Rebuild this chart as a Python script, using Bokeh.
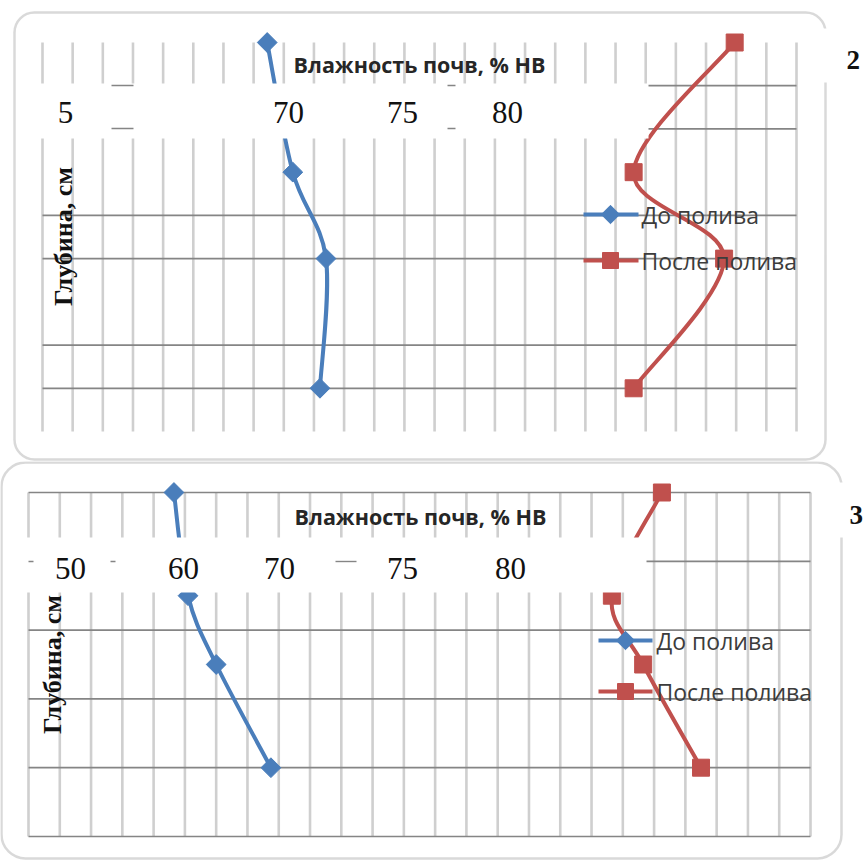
import numpy as np
from bokeh.plotting import figure
from bokeh.models import Range1d, Label, BoxAnnotation
from bokeh.layouts import column
from bokeh.embed import file_html
from bokeh.resources import INLINE

# Soil moisture (% of field capacity, НВ) by depth (cm), before and after irrigation
depth_cm = [0, 30, 50, 80]

before_2 = [64.9, 66.6, 68.8, 68.4]
after_2 = [95.9, 89.2, 95.2, 89.2]

before_3 = [59.3, 60.2, 62.0, 65.5]
after_3 = [90.5, 87.3, 89.3, 93.0]

moisture_min, moisture_max, moisture_step = 50, 100, 2
depth_max_2, depth_max_3 = 90, 100
depth_lines_2 = [10, 20, 40, 50, 70, 80]
depth_lines_3 = [0, 20, 40, 60, 80, 100]

tick_labels_2 = ["5", "70", "75", "80"]
tick_labels_3 = ["50", "60", "70", "75", "80"]

series_names = ["До полива", "После полива"]
title_text = "Влажность почв, % НВ"
depth_label = "Глубина, см"
panel_names = ["2", "3"]

BLUE = "#4a7ebb"
RED = "#c0504d"
GRID_LIGHT = "#cfcfcf"
GRID_DARK = "#858585"
FRAME_GRAY = "#808080"

W = 866


class Frame:
    """Maps page pixels to data values for one panel."""

    def __init__(self, height, page_top, px_left, px_right, px_top, px_bottom, depth_max):
        self.height = height
        self.page_top = page_top
        self.px_left = px_left
        self.px_top = px_top
        self.kx = (moisture_max - moisture_min) / (px_right - px_left)
        self.ky = depth_max / (px_bottom - px_top)
        self.depth_max = depth_max

    def x(self, px):
        return moisture_min + (px - self.px_left) * self.kx

    def y(self, py):
        return (py - self.px_top) * self.ky

    def figure(self):
        return figure(
            width=W, height=self.height,
            x_range=Range1d(self.x(0), self.x(W)),
            y_range=Range1d(self.y(self.page_top + self.height), self.y(self.page_top)),
            x_axis_type=None, y_axis_type=None,
            output_backend="svg", toolbar_location=None,
            min_border=0, min_border_left=0, min_border_right=0,
            min_border_top=0, min_border_bottom=0,
            outline_line_color=None,
            background_fill_color="white", border_fill_color="white",
        )


def smooth_segments(xs, ys):
    """Catmull-Rom style cubic Bezier pieces through the points."""
    pts = np.column_stack([xs, ys]).astype(float)
    n = len(pts)
    out = {k: [] for k in ("x0", "y0", "x1", "y1", "cx0", "cy0", "cx1", "cy1")}
    for i in range(n - 1):
        p_prev = pts[i - 1] if i > 0 else pts[i]
        p0, p1 = pts[i], pts[i + 1]
        p_next = pts[i + 2] if i + 2 < n else pts[i + 1]
        c0 = p0 + (p1 - p_prev) / 6.0
        c1 = p1 - (p_next - p0) / 6.0
        out["x0"].append(p0[0]); out["y0"].append(p0[1])
        out["x1"].append(p1[0]); out["y1"].append(p1[1])
        out["cx0"].append(c0[0]); out["cy0"].append(c0[1])
        out["cx1"].append(c1[0]); out["cy1"].append(c1[1])
    return out


def draw_panel(fr, before, after, depth_lines, tick_labels, lay):
    p = fr.figure()
    ticks = list(range(moisture_min, moisture_max + 1, moisture_step))

    # grid
    p.segment(x0=ticks, y0=[0] * len(ticks), x1=ticks, y1=[fr.depth_max] * len(ticks),
              line_color=GRID_LIGHT, line_width=2.6)
    p.segment(x0=[moisture_min] * len(depth_lines), y0=depth_lines,
              x1=[moisture_max] * len(depth_lines), y1=depth_lines,
              line_color=GRID_DARK, line_width=1.7)

    # series
    for vals, color in ((before, BLUE), (after, RED)):
        seg = smooth_segments(vals, depth_cm)
        p.bezier(line_color=color, line_width=4, **seg)
    p.scatter(before, depth_cm, marker="square", angle=np.pi / 4, size=14,
              fill_color=BLUE, line_color=BLUE)
    p.scatter(after, depth_cm, marker="square", size=17,
              fill_color=RED, line_color=RED)

    # legend
    lx0, lx1, lmx, ltx = lay["legend_x"]
    for name, ly, color, size, ang in (
        (series_names[0], lay["legend_y"][0], BLUE, 13, np.pi / 4),
        (series_names[1], lay["legend_y"][1], RED, 16, 0.0),
    ):
        p.segment(x0=[fr.x(lx0)], y0=[fr.y(ly)], x1=[fr.x(lx1)], y1=[fr.y(ly)],
                  line_color=color, line_width=4)
        p.scatter([fr.x(lmx)], [fr.y(ly)], marker="square", angle=ang, size=size,
                  fill_color=color, line_color=color)
        p.add_layout(Label(x=fr.x(ltx), y=fr.y(ly), text=name,
                           text_font="Open Sans", text_font_size="23px",
                           text_color="#3c3c3c", text_align="left",
                           text_baseline="middle"))

    # pasted tick-label strip
    sl, sr, st, sb = lay["strip"]
    p.quad(left=[fr.x(sl)], right=[fr.x(sr)], top=[fr.y(st)], bottom=[fr.y(sb)],
           fill_color="white", line_color=None)
    for fy, fxa, fxb in lay["fragments"]:
        p.segment(x0=[fr.x(fxa)], y0=[fr.y(fy)], x1=[fr.x(fxb)], y1=[fr.y(fy)],
                  line_color=GRID_DARK, line_width=1.4)
    for txt, tx in zip(tick_labels, lay["tick_x"]):
        p.add_layout(Label(x=fr.x(tx), y=fr.y(lay["tick_y"]), text=txt,
                           text_font="Liberation Serif", text_font_size="31px",
                           text_color="#111111", text_align="center",
                           text_baseline="middle"))

    # title and depth label
    tx, ty = lay["title"]
    p.add_layout(Label(x=fr.x(tx), y=fr.y(ty), text=title_text,
                       text_font="Open Sans", text_font_style="bold",
                       text_font_size="21.5px", text_color="#262626",
                       text_align="center", text_baseline="middle"))
    yx, yy = lay["ylabel"]
    p.add_layout(Label(x=fr.x(yx), y=fr.y(yy), text=depth_label, angle=np.pi / 2,
                       text_font="Liberation Serif", text_font_style="bold",
                       text_font_size="26px", text_color="#111111",
                       text_align="center", text_baseline="middle"))

    # rounded panel frame
    bl, br, bt, bb = lay["border"]
    p.add_layout(BoxAnnotation(left=fr.x(bl), right=fr.x(br), top=fr.y(bt), bottom=fr.y(bb),
                               fill_color=None, line_color=FRAME_GRAY, line_width=2.5,
                               border_radius=lay["radius"]))
    pl, pr, pt, pb = lay["name_patch"]
    p.add_layout(BoxAnnotation(left=fr.x(pl), right=fr.x(pr), top=fr.y(pt), bottom=fr.y(pb),
                               fill_color="white", fill_alpha=1.0, line_color=None))
    nx, ny = lay["name"]
    p.add_layout(Label(x=fr.x(nx), y=fr.y(ny), text=lay["name_text"],
                       text_font="Liberation Serif", text_font_style="bold",
                       text_font_size="27px", text_color="#111111",
                       text_align="left", text_baseline="middle"))
    return p


top = Frame(461, 0, 42, 796, 42, 431, depth_max_2)
bottom = Frame(400, 461, 28, 810, 492, 836, depth_max_3)

layout_2 = dict(
    legend_x=(583, 638, 610, 641), legend_y=(214, 260),
    strip=(18, 648, 83, 138),
    fragments=[(85, 111, 133), (128, 111, 133), (85, 447, 455), (128, 447, 455)],
    tick_x=[65, 288, 402, 507], tick_y=112,
    title=(419, 64), ylabel=(63, 236),
    border=(14, 825, 12, 459), radius=20,
    name_patch=(817, 866, 28, 82), name=(846, 59), name_text=panel_names[0],
)
layout_3 = dict(
    legend_x=(598, 652, 625, 656), legend_y=(640, 691),
    strip=(22, 646, 537, 592),
    fragments=[(561, 28, 33), (561, 110, 115), (561, 335, 356)],
    tick_x=[70, 183, 279, 402, 510], tick_y=568,
    title=(420, 516), ylabel=(52, 664),
    border=(1, 841, 462, 858), radius=24,
    name_patch=(830, 866, 482, 537), name=(849, 514), name_text=panel_names[1],
)

p_top = draw_panel(top, before_2, after_2, depth_lines_2, tick_labels_2, layout_2)
p_bottom = draw_panel(bottom, before_3, after_3, depth_lines_3, tick_labels_3, layout_3)

page = column(p_top, p_bottom, spacing=0)
open("out.html", "w").write(file_html(page, INLINE))
